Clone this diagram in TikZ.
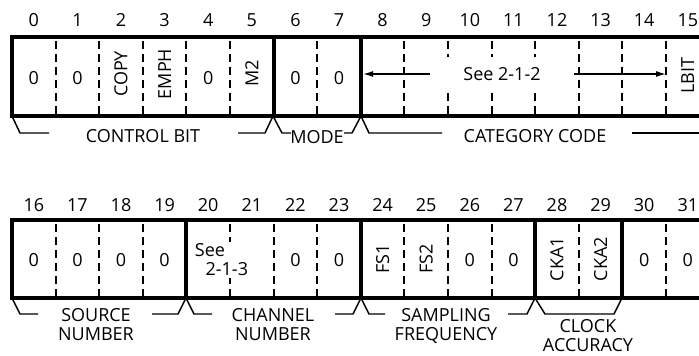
\documentclass[tikz,border=0pt]{standalone}
\usepackage{fontspec}
\setmainfont{Open Sans}
\usetikzlibrary{arrows.meta}
\usetikzlibrary{positioning}
\tikzset{
frame/.style={line width=3pt},
sep/.style={line width=1.5pt,
  dash pattern=on 6pt off 3.75pt,
    dash phase=-3pt},
brack/.style={line width=1.1pt},
bitno/.style={font=\fontsize{13.5}{15}\selectfont},
field/.style={font=\fontsize{13.5}{15}\selectfont},
vfield/.style={field, rotate=90},
lbl/.style={font=\fontsize{13.5}{14.25}\selectfont,
  align=center},
}

\begin{document}
\begin{tikzpicture}[x=0.75pt,y=-0.75pt]
  \useasboundingbox (0,0) rectangle (699,356);
  \clip (0,0) rectangle (699,356);

  % Bit numbers
  \foreach \i in {0,...,15} {
    \pgfmathtruncatemacro\j{\i+16}
    \node [bitno] (n\i) at (33.8+43.6*\i,20) {\i};
    \node [bitno] (n\j) at (33.8+43.6*\i,205) {\j};
  }

  % Dashed separators
  \foreach \i in {1,2,3,4,5,7,9,10,11,12,13,14,15}
    \draw [sep] (12+43.6*\i,37) -- (12+43.6*\i,116);
  \foreach \i in {1,2,3,5,6,7,9,10,11,13,15}
    \draw [sep] (12+43.6*\i,220) -- (12+43.6*\i,298);

  % Frames
  \draw [frame] (720,37) -- (12,37) -- (12,116) -- (720,116);
  \draw [frame] (720,220) -- (12,220) -- (12,298) -- (720,298);
  \foreach \i in {6,8}
    \draw [frame] (12+43.6*\i,37) -- (12+43.6*\i,116);
  \foreach \i in {4,8,12,14}
    \draw [frame] (12+43.6*\i,220) -- (12+43.6*\i,298);

  % First word
  \foreach \i in {0,1,4,6,7}
    \node [field] (a\i) at (33.8+43.6*\i,78) {0};
  \node [vfield] (copy) at (121,74) {COPY};
  \node [vfield] (emph) at (164.6,74) {EMPH};
  \node [vfield] (mtwo) at (251.8,73) {M2};
  \node [vfield] (lbit) at (687.8,76) {LBIT};
  \node [field, fill=white, minimum width=108pt, minimum height=25pt,
    inner sep=0pt] (see1) at (502,74) {See 2-1-2};
  \coordinate (b8) at (363,74);
  \coordinate (b15) at (666,74);
  \draw [-{Latex[length=7.5pt,width=4.5pt]}, brack] (see1.west) -- (b8);
  \draw [-{Latex[length=7.5pt,width=4.5pt]}, brack] (see1.east) -- (b15);

  % Second word
  \foreach \i in {0,1,2,3,6,7,10,11,14,15}
    \node [field] (c\i) at (33.8+43.6*\i,260) {0};
  \node [vfield] (fsone) at (382.6,259) {FS1};
  \node [vfield] (fstwo) at (426.2,259) {FS2};
  \node [vfield] (ckaone) at (557.0,259) {CKA1};
  \node [vfield] (ckatwo) at (600.6,259) {CKA2};
  \node [lbl, fill=white, align=left, inner sep=1.5pt] (see2) at (221.5,260)
    {See\\\hspace*{8pt}2-1-3};

  % Brackets, first word
  \draw [brack] (12,116) -- (20,133) -- (49,133);
  \draw [brack] (238,133) -- (265,133) -- (273,116);
  \node [lbl] (ctrl) at (143,136) {CONTROL BIT};
  \draw [brack] (273,116) -- (282,133) -- (291,133);
  \draw [brack] (344,133) -- (352,133) -- (361,116);
  \node [lbl, inner sep=0pt] (mode) at (317,137) {MODE};
  \draw [brack] (361,116) -- (369,133) -- (442,133);
  \draw [brack] (632,133) -- (720,133);
  \node [lbl] (cat) at (535,136) {CATEGORY CODE};

  % Brackets, second word
  \draw [brack] (12,298) -- (20,314) -- (38,314);
  \draw [brack] (152,314) -- (178,314) -- (186,298);
  \node [lbl, anchor=north] (src) at (96,304) {SOURCE\\NUMBER};
  \draw [brack] (186,298) -- (194,314) -- (212,314);
  \draw [brack] (335,314) -- (353,314) -- (361,298);
  \node [lbl, anchor=north] (chan) at (273,304) {CHANNEL\\NUMBER};
  \draw [brack] (361,298) -- (369,314) -- (385,314);
  \draw [brack] (508,314) -- (527,314) -- (535,298);
  \node [lbl, anchor=north] (samp) at (446,304) {SAMPLING\\FREQUENCY};
  \draw [brack] (535,298) -- (545,314) -- (614,314) -- (622,298);
  \node [lbl, anchor=north, inner sep=0pt] (clk) at (588,319) {CLOCK\\ACCURACY};
\end{tikzpicture}
\end{document}
